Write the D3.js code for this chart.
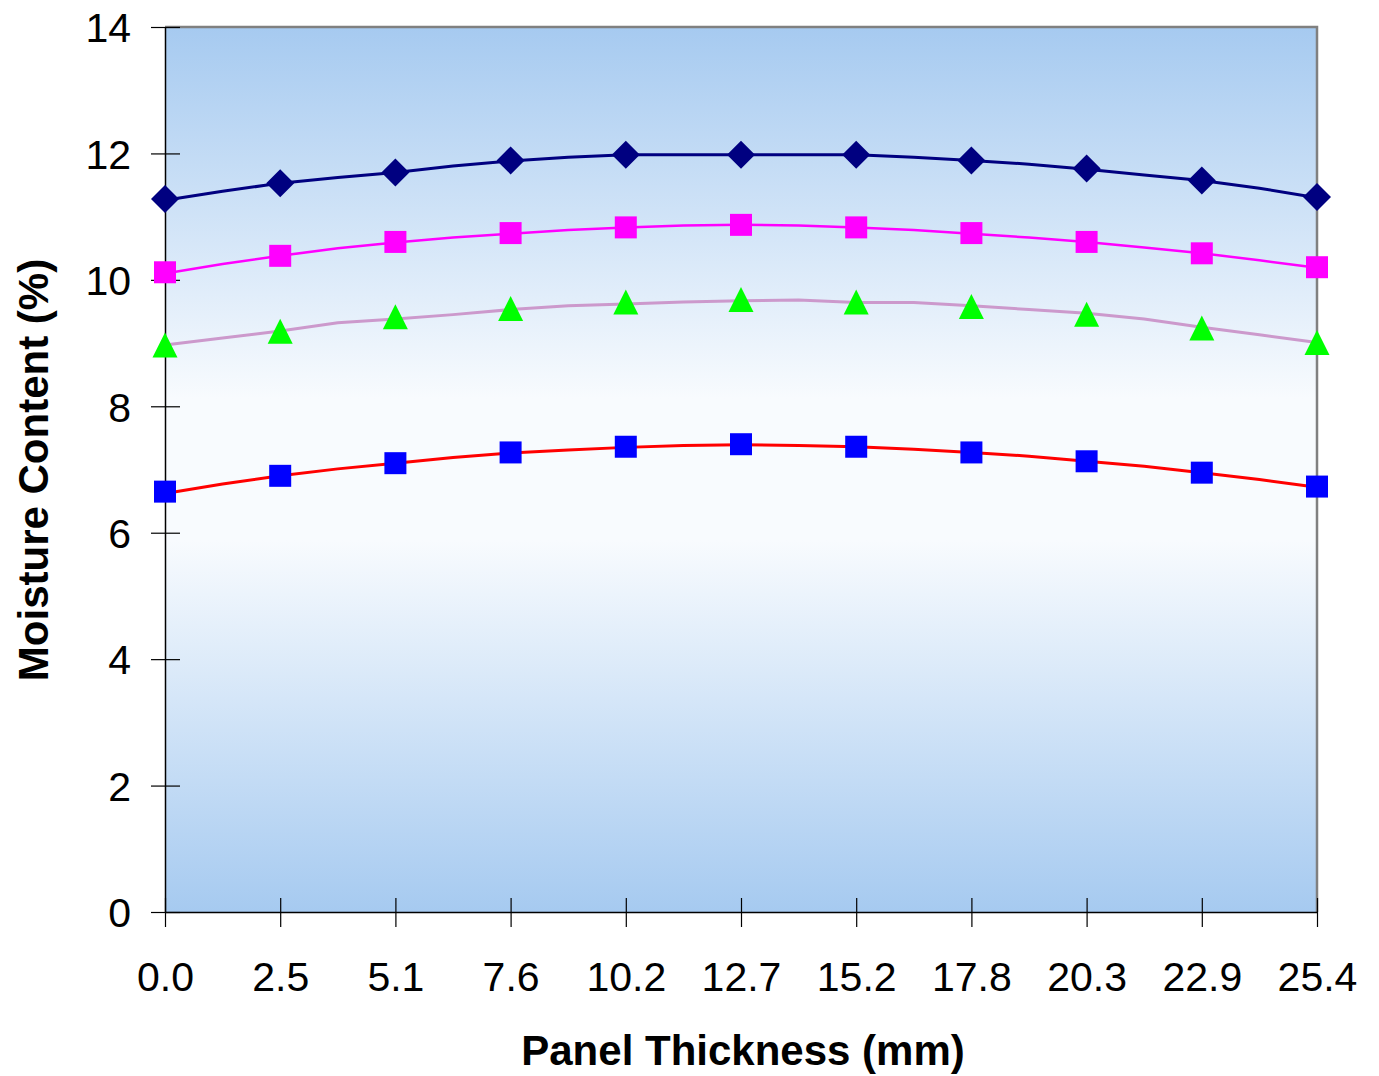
<!DOCTYPE html>
<html>
<head>
<meta charset="utf-8">
<script src="https://cdn.jsdelivr.net/npm/d3@7"></script>
<style>
  body { margin: 0; background: #fff; }
  text { font-family: "Liberation Sans", Arial, sans-serif; }
</style>
</head>
<body>
<div id="canvas"></div>
<script>
// 21 positions through the panel (mm), labels shown on every other one
var thickness = [0, 1.27, 2.54, 3.81, 5.08, 6.35, 7.62, 8.89, 10.16, 11.43, 12.7,
                 13.97, 15.24, 16.51, 17.78, 19.05, 20.32, 21.59, 22.86, 24.13, 25.4];
var tickLabels = ["0.0", "2.5", "5.1", "7.6", "10.2", "12.7", "15.2", "17.8", "20.3", "22.9", "25.4"];
var yTicks = [0, 2, 4, 6, 8, 10, 12, 14];

// measured points (markers) at the labelled positions
var measuredNavy    = [11.28, 11.53, 11.70, 11.89, 11.98, 11.98, 11.98, 11.89, 11.76, 11.57, 11.31];
var measuredMagenta = [10.12, 10.38, 10.60, 10.74, 10.83, 10.87, 10.83, 10.74, 10.60, 10.42, 10.20];
var measuredGreen   = [8.96, 9.18, 9.41, 9.54, 9.64, 9.68, 9.64, 9.57, 9.45, 9.23, 9.00];
var measuredBlue    = [6.65, 6.90, 7.10, 7.27, 7.36, 7.40, 7.36, 7.27, 7.13, 6.95, 6.73];

// predicted profiles (lines) at all 21 positions
var predNavy    = [11.26, 11.40, 11.53, 11.62, 11.70, 11.80, 11.88, 11.94, 11.98, 11.98, 11.98,
                   11.98, 11.98, 11.94, 11.89, 11.83, 11.75, 11.66, 11.57, 11.45, 11.30];
var predMagenta = [10.10, 10.25, 10.38, 10.50, 10.59, 10.67, 10.73, 10.79, 10.83, 10.86, 10.87,
                   10.86, 10.83, 10.79, 10.73, 10.67, 10.60, 10.51, 10.42, 10.31, 10.19];
var predLilac   = [8.97, 9.08, 9.19, 9.32, 9.38, 9.45, 9.53, 9.59, 9.62, 9.65, 9.67,
                   9.68, 9.64, 9.64, 9.59, 9.53, 9.47, 9.38, 9.25, 9.13, 9.01];
var predRed     = [6.62, 6.77, 6.90, 7.01, 7.10, 7.19, 7.26, 7.31, 7.35, 7.38, 7.39,
                   7.38, 7.36, 7.32, 7.27, 7.21, 7.13, 7.05, 6.95, 6.84, 6.72];

var width = 1379, height = 1076;
var plotLeft = 165, plotRight = 1317, plotTop = 27, plotBottom = 912;

var svg = d3.select("#canvas").append("svg")
    .attr("width", width)
    .attr("height", height);

var x = d3.scalePoint()
    .domain(thickness)
    .range([plotLeft, plotRight])
    .padding(0);

var y = d3.scaleLinear()
    .domain([0, 14])
    .range([plotBottom, plotTop]);

// plot background, blue - white - blue
var grad = svg.append("defs").append("linearGradient")
    .attr("id", "bg")
    .attr("x1", 0).attr("y1", 0).attr("x2", 0).attr("y2", 1);
grad.append("stop").attr("offset", "0%").attr("stop-color", "#a6caf0");
grad.append("stop").attr("offset", "42%").attr("stop-color", "#f8fbfe");
grad.append("stop").attr("offset", "58%").attr("stop-color", "#f8fbfe");
grad.append("stop").attr("offset", "100%").attr("stop-color", "#a6caf0");

svg.append("rect")
    .attr("x", plotLeft).attr("y", plotTop)
    .attr("width", plotRight - plotLeft).attr("height", plotBottom - plotTop)
    .attr("fill", "url(#bg)");

// gray top / right border
svg.append("path")
    .attr("d", "M" + plotLeft + "," + plotTop + "H" + plotRight + "V" + plotBottom)
    .attr("fill", "none")
    .attr("stroke", "#808080")
    .attr("stroke-width", 2.5);

// axes
var xAxis = svg.append("g")
    .attr("transform", "translate(0," + plotBottom + ")")
    .call(d3.axisBottom(x)
        .tickValues(thickness.filter((d, i) => i % 2 === 0))
        .tickFormat((d, i) => tickLabels[i])
        .tickSizeOuter(0));
xAxis.select(".domain").attr("stroke", "#000").attr("stroke-width", 1.5);
xAxis.selectAll(".tick line").attr("y1", -14).attr("y2", 15).attr("stroke", "#000").attr("stroke-width", 1.2);
xAxis.selectAll(".tick text")
    .attr("y", 79).attr("dy", null)
    .attr("fill", "#000")
    .style("font-size", "41px");

var yAxis = svg.append("g")
    .attr("transform", "translate(" + plotLeft + ",0)")
    .call(d3.axisLeft(y).tickValues(yTicks).tickSizeOuter(0));
yAxis.select(".domain").attr("stroke", "#000").attr("stroke-width", 1.5);
yAxis.selectAll(".tick line").attr("x1", -14).attr("x2", 15).attr("stroke", "#000").attr("stroke-width", 1.2);
yAxis.selectAll(".tick text")
    .attr("x", -34).attr("dy", "0.36em")
    .attr("fill", "#000")
    .style("font-size", "41px");

// axis titles
svg.append("text")
    .attr("x", 743).attr("y", 1065)
    .attr("text-anchor", "middle")
    .style("font-size", "42px").style("font-weight", "bold")
    .text("Panel Thickness (mm)");

svg.append("text")
    .attr("transform", "translate(48,470) rotate(-90)")
    .attr("text-anchor", "middle")
    .style("font-size", "42px").style("font-weight", "bold")
    .text("Moisture Content (%)");

// lines
var line = d3.line()
    .x((d, i) => x(thickness[i]))
    .y(d => y(d));

var lines = [
    { values: predNavy, color: "#000080", w: 3 },
    { values: predMagenta, color: "#ff00ff", w: 2.5 },
    { values: predLilac, color: "#cc99cc", w: 3 },
    { values: predRed, color: "#ff0000", w: 3 }
];

svg.selectAll(".pred")
    .data(lines)
    .enter()
    .append("path")
    .attr("class", "pred")
    .attr("d", d => line(d.values))
    .attr("fill", "none")
    .attr("stroke", d => d.color)
    .attr("stroke-width", d => d.w);

// markers (Excel style shapes, drawn in a box around the point)
var markerX = thickness.filter((d, i) => i % 2 === 0);

var shapes = {
    diamond: "M0,-14L14,0L0,14L-14,0Z",
    square: "M-11,-11H11V11H-11Z",
    triangle: "M0,-13L12.5,12L-12.5,12Z"
};

var markers = [
    { values: measuredNavy, color: "#000080", shape: "diamond" },
    { values: measuredMagenta, color: "#ff00ff", shape: "square" },
    { values: measuredGreen, color: "#00ff00", shape: "triangle" },
    { values: measuredBlue, color: "#0000ff", shape: "square" }
];

markers.forEach(function(m) {
    svg.append("g")
        .selectAll("path")
        .data(m.values)
        .enter()
        .append("path")
        .attr("transform", (d, i) => "translate(" + x(markerX[i]) + "," + y(d) + ")")
        .attr("d", shapes[m.shape])
        .attr("fill", m.color);
});
</script>
</body>
</html>
